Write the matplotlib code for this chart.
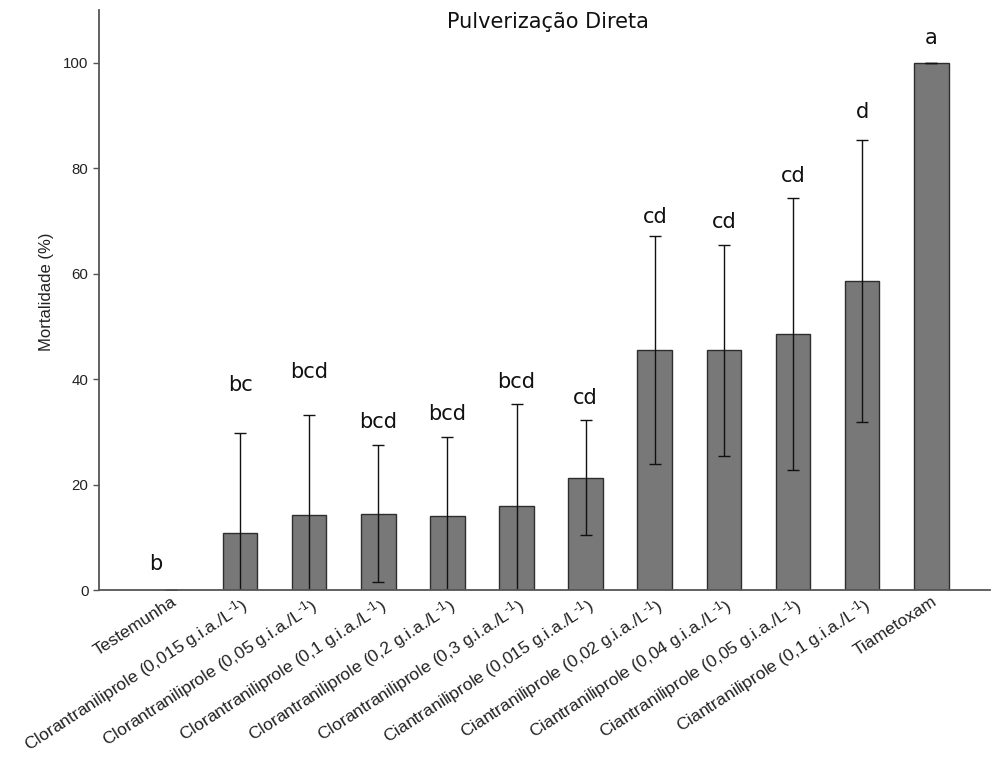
import matplotlib
matplotlib.use("Agg")
import matplotlib.pyplot as plt

plt.rcParams['mathtext.fontset'] = 'custom'
plt.rcParams['mathtext.rm'] = 'Liberation Sans'
plt.rcParams['mathtext.it'] = 'Liberation Sans:italic'

sup = r'$^{\text{-}1}$'
treatments = [
    'Testemunha',
    'Clorantraniliprole (0,015 g.i.a./L' + sup + ')',
    'Clorantraniliprole (0,05 g.i.a./L' + sup + ')',
    'Clorantraniliprole (0,1 g.i.a./L' + sup + ')',
    'Clorantraniliprole (0,2 g.i.a./L' + sup + ')',
    'Clorantraniliprole (0,3 g.i.a./L' + sup + ')',
    'Ciantraniliprole (0,015 g.i.a./L' + sup + ')',
    'Ciantraniliprole (0,02 g.i.a./L' + sup + ')',
    'Ciantraniliprole (0,04 g.i.a./L' + sup + ')',
    'Ciantraniliprole (0,05 g.i.a./L' + sup + ')',
    'Ciantraniliprole (0,1 g.i.a./L' + sup + ')',
    'Tiametoxam',
]
mortality = [0, 10.9, 14.2, 14.5, 14.1, 16.0, 21.3, 45.5, 45.5, 48.5, 58.6, 100]
std_dev = [0, 18.9, 19.0, 13.0, 15.0, 19.2, 10.9, 21.6, 20.0, 25.8, 26.8, 0]
letters = ['b', 'bc', 'bcd', 'bcd', 'bcd', 'bcd', 'cd', 'cd', 'cd', 'cd', 'd', 'a']

fig = plt.figure(figsize=(9.92, 7.58), dpi=100)
ax = fig.add_axes([99 / 992, 1 - 590 / 758, 891 / 992, 580 / 758])

x = list(range(len(treatments)))
ax.bar(x, mortality, width=0.5, color='#787878', edgecolor='#2e2e2e', linewidth=1.0,
       yerr=std_dev, capsize=4.5, error_kw={'elinewidth': 1.0, 'ecolor': '#111111', 'capthick': 1.0})

# letters above the error bars (spacing read off the original, not uniform)
pads = [3.0, 7.2, 6.3, 2.4, 2.4, 2.4, 2.4, 1.7, 2.4, 2.4, 3.3, 2.8]
for i, (m, s, lab) in enumerate(zip(mortality, std_dev, letters)):
    xi = i - 0.22 if i == 0 else i
    ax.text(xi, m + s + pads[i], lab, ha='center', va='bottom', fontsize=15,
            family='DejaVu Sans', color='#111111')

ax.set_xlim(-1.04, 11.85)
ax.set_ylim(0, 110)
ax.set_yticks([0, 20, 40, 60, 80, 100])
ax.spines['top'].set_visible(False)
ax.spines['right'].set_visible(False)
ax.spines['left'].set_color('#555555')
ax.spines['bottom'].set_color('#555555')
ax.spines['left'].set_linewidth(1.3)
ax.spines['bottom'].set_linewidth(1.3)
ax.tick_params(axis='y', length=4, width=1, color='#555555', labelsize=10.8, labelcolor='#222222')
ax.tick_params(axis='x', length=0, pad=3)
for t in ax.get_yticklabels():
    t.set_family('Liberation Sans')

ax.set_xticks(x)
ax.set_xticklabels(treatments, rotation=33, ha='right', rotation_mode='anchor',
                   fontsize=12.6, family='Liberation Sans', color='#222222')

fig.text(548 / 992, 1 - 22 / 758, 'Pulverização Direta', ha='center', va='center',
         fontsize=15, family='DejaVu Sans', color='#111111')
fig.text(46 / 992, 1 - 292 / 758, 'Mortalidade (%)', rotation=90, ha='center', va='center',
         fontsize=12, family='Liberation Sans', color='#222222')

fig.savefig('out.png', dpi=100)
